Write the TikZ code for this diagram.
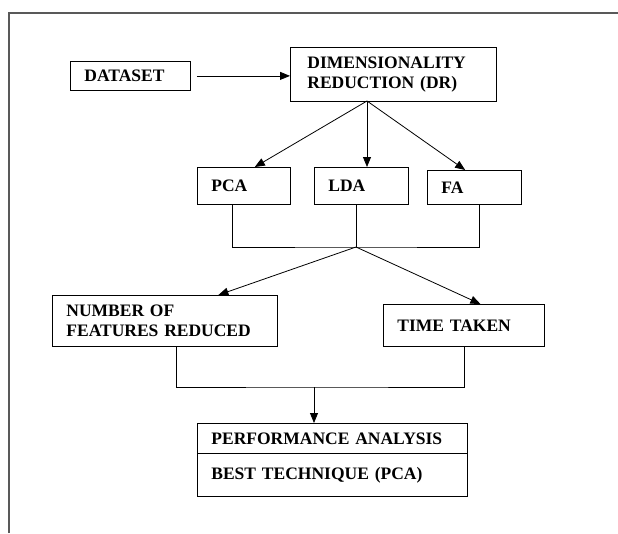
\documentclass[tikz,border=0pt]{standalone}
\usepackage{fontspec}
\setmainfont{Liberation Serif}
\usetikzlibrary{arrows.meta}

\begin{document}
\begin{tikzpicture}[x=1pt, y=-1pt, line width=0.8pt,
        box/.style={draw, anchor=north west, align=left, inner xsep=14pt, inner ysep=0pt,
            font=\fontsize{17.5}{20}\selectfont\bfseries},
        arr/.style={-{Triangle[length=10pt, width=8pt]}}
    ]
    \useasboundingbox (0,0) rectangle (618,533);
    \draw[gray!70!black, line width=1.4pt] (9,533) -- (9,13) -- (618,13);

    \begin{scope}[every node/.style={box}]
        \node[text width=92pt, minimum height=29pt] (dataset) at (70,61) {DATASET};
        \node[text width=172pt, minimum height=54pt, inner xsep=17pt] (dr) at (290,47) {DIMENSIONALITY\\REDUCTION (DR)};

        \node[text width=65pt, minimum height=37pt] (pca) at (197,167) {PCA};
        \node[text width=66pt, minimum height=37pt] (lda) at (314,167) {LDA};
        \node[text width=66pt, minimum height=34pt] (fa) at (427,170) {FA};

        \node[text width=197pt, minimum height=51pt] (num) at (52,295) {NUMBER OF\\FEATURES REDUCED};
        \node[text width=133pt, minimum height=42pt] (time) at (383,304) {TIME TAKEN};

        \node[text width=242pt, minimum height=30pt] (pa) at (197,423) {PERFORMANCE ANALYSIS};
        \node[text width=242pt, minimum height=43pt] (best) at (197,453) {BEST TECHNIQUE (PCA)};
    \end{scope}

    \coordinate (drout) at (367,101);
    \coordinate (j1) at (356,247);
    \coordinate (j2) at (314,387);

    \draw[arr, shorten <=6pt] (dataset.east) -- (dataset.east -| dr.west);
    \draw[arr] (drout) -- (pca.60);
    \draw[arr] (drout) -- (drout |- lda.north);
    \draw[arr] (drout) -- (fa.118);

    \draw ([xshift=-11.5pt]pca.south) |- (j1) -| ([xshift=5pt]fa.south);
    \draw (j1 |- lda.south) -- (j1);
    \draw[arr] (j1) -- ([xshift=53.5pt]num.north);
    \draw[arr] (j1) -- ([xshift=16.5pt]time.north);

    \draw ([xshift=11pt]num.south) |- (j2) -| (time.south);
    \draw[arr] (j2) -- (j2 |- pa.north);
\end{tikzpicture}
\end{document}
